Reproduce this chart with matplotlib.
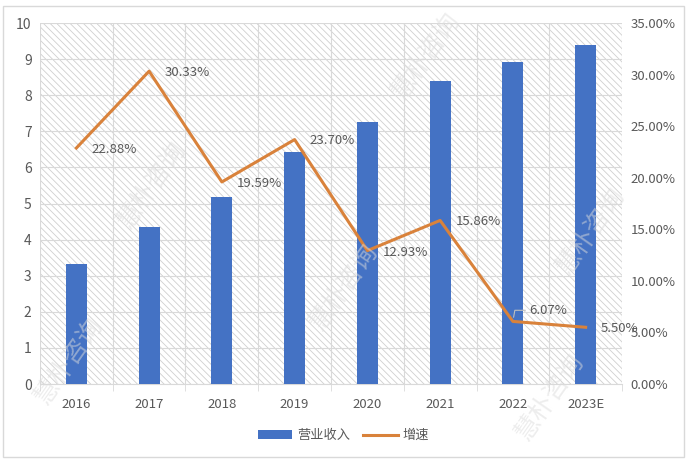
import matplotlib
matplotlib.use("Agg")
from matplotlib import pyplot as plt
from matplotlib.patches import Rectangle
import matplotlib.ticker as mticker

plt.rcParams['font.family'] = ['Noto Sans CJK SC', 'DejaVu Sans']
plt.rcParams['hatch.color'] = '#c8c8c8'
plt.rcParams['hatch.linewidth'] = 0.6

# data
years = ['2016', '2017', '2018', '2019', '2020', '2021', '2022', '2023E']
revenue = [3.32, 4.35, 5.18, 6.43, 7.26, 8.39, 8.92, 9.40]
growth = [22.88, 30.33, 19.59, 23.70, 12.93, 15.86, 6.07, 5.50]
growth_labels = ['22.88%', '30.33%', '19.59%', '23.70%', '12.93%', '15.86%', '6.07%', '5.50%']

bar_color = '#4472C4'
line_color = '#D9823B'
text_color = '#595959'
grid_color = '#d9d9d9'

fig = plt.figure(figsize=(6.87, 4.62), dpi=100)
# outer border of the chart
fig.patches.append(Rectangle((0.005, 0.01), 0.99, 0.978, transform=fig.transFigure,
                             fill=False, edgecolor='#d9d9d9', linewidth=1.0))

ax = fig.add_axes([0.0582, 0.1688, 0.8472, 0.7814])
x = list(range(len(years)))

# hatched plot background
ax.add_patch(Rectangle((0, 0), 1, 1, transform=ax.transAxes, facecolor='white',
                       hatch='\\\\\\\\\\', edgecolor='#cfcfcf', linewidth=0, zorder=0))

ax.bar(x, revenue, width=0.29, color=bar_color, zorder=3, label='营业收入')
ax.set_xlim(-0.5, len(years) - 0.5)
ax.set_ylim(0, 10)
ax.set_yticks(range(0, 11))
ax.set_xticks(x)
ax.set_xticklabels(years)
ax.set_xticks([i + 0.5 for i in range(-1, len(years))], minor=True)
ax.grid(True, which='minor', axis='x', color=grid_color, linewidth=0.8, zorder=1)
ax.grid(True, which='major', axis='y', color=grid_color, linewidth=0.8, zorder=1)
ax.tick_params(axis='x', which='major', length=0, colors=text_color, labelsize=9.5, pad=10)
ax.tick_params(axis='x', which='minor', length=5, color=grid_color)
ax.tick_params(axis='y', length=0, colors=text_color, labelsize=10, pad=6)
for s in ax.spines.values():
    s.set_visible(False)
ax.spines['bottom'].set_visible(True)
ax.spines['bottom'].set_color(grid_color)

ax2 = ax.twinx()
ax2.plot(x, growth, color=line_color, linewidth=2.2, zorder=4, label='增速')
ax2.set_ylim(0, 35)
ax2.set_yticks(range(0, 36, 5))
ax2.yaxis.set_major_formatter(mticker.FuncFormatter(lambda v, p: '%.2f%%' % v))
ax2.tick_params(axis='y', length=0, colors=text_color, labelsize=9.5, pad=6)
for s in ax2.spines.values():
    s.set_visible(False)

for i, (g, lab) in enumerate(zip(growth, growth_labels)):
    if i == 6:
        ax2.annotate(lab, xy=(i, g), xytext=(12, 8), textcoords='offset points',
                     fontsize=9.5, color=text_color, va='center', ha='left',
                     arrowprops=dict(arrowstyle='-', color='#bfbfbf', lw=0.8,
                                     shrinkA=1, shrinkB=3,
                                     connectionstyle='angle,angleA=0,angleB=80,rad=0'))
    else:
        ax2.annotate(lab, xy=(i, g), xytext=(11, -1), textcoords='offset points',
                     fontsize=9.5, color=text_color, va='center', ha='left')

# watermark
for (wx, wy) in [(0.22, 0.60), (0.50, 0.38), (0.86, 0.50), (0.62, 0.88), (0.10, 0.22), (0.80, 0.14)]:
    fig.text(wx, wy, '慧朴咨询', rotation=55, fontsize=18, color='#dcdcdc', alpha=0.5,
             ha='center', va='center', zorder=10)

h1, l1 = ax.get_legend_handles_labels()
h2, l2 = ax2.get_legend_handles_labels()
fig.legend(h1 + h2, l1 + l2, loc='center', bbox_to_anchor=(0.5, 0.057), ncol=2,
           frameon=False, fontsize=9.5, labelcolor=text_color, handlelength=2.6,
           columnspacing=1.0, handletextpad=0.4)

fig.savefig('out.png', dpi=100)
